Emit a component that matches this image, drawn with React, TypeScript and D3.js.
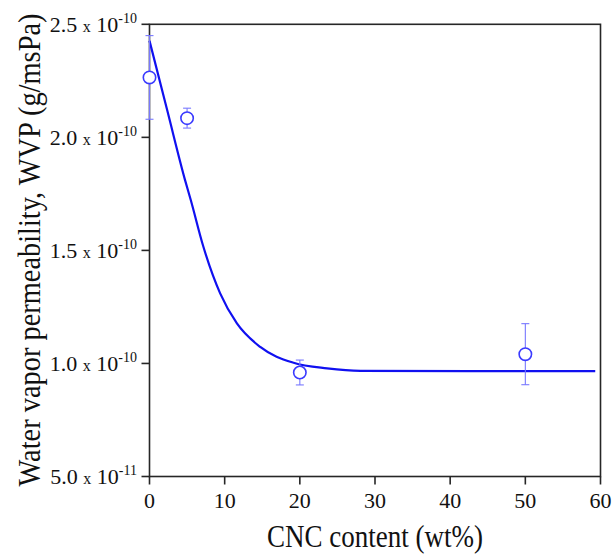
import React from 'react';
import * as d3 from 'd3';

// WVP vs CNC content, open circles with error bars plus fitted curve.

const CNC = [0, 5, 20, 50];
const WVP = [2.265, 2.085, 0.96, 1.041]; // x 1e-10
const WVP_ERR = [0.185, 0.044, 0.055, 0.135];

const FIT_X = [0, 2.4, 4.73, 5.49, 7.17, 9.4, 11.63, 14.73, 19.17, 23.63, 28.07, 59.3];
const FIT_Y = [2.427, 2.114, 1.811, 1.723, 1.516, 1.31, 1.177, 1.073, 1.003, 0.978, 0.967, 0.966];

const X_TICKS = [0, 10, 20, 30, 40, 50, 60];
const Y_TICKS = [
  { v: 0.5, mant: '5.0', exp: '-11' },
  { v: 1.0, mant: '1.0', exp: '-10' },
  { v: 1.5, mant: '1.5', exp: '-10' },
  { v: 2.0, mant: '2.0', exp: '-10' },
  { v: 2.5, mant: '2.5', exp: '-10' },
];

const W = 614;
const H = 554;
const M = { left: 149.5, right: 600.5, top: 24.3, bottom: 476.5 };
const FONT = { fontFamily: 'Liberation Serif, serif' };
const AXIS = '#262626';

export default function App() {
  const x = d3.scaleLinear().domain([0, 60]).range([M.left, M.right]);
  const y = d3.scaleLinear().domain([0.5, 2.5]).range([M.bottom, M.top]);

  const fitLine = d3
    .line<number>()
    .x((_, i) => x(FIT_X[i]))
    .y((d) => y(d))
    .curve(d3.curveMonotoneX);

  return (
    <svg
      width={W}
      height={H}
      viewBox={`0 0 ${W} ${H}`}
      style={{ position: 'absolute', left: 0, top: 0, background: '#fff' }}
    >
      {/* frame */}
      <rect
        x={M.left}
        y={M.top}
        width={M.right - M.left}
        height={M.bottom - M.top}
        fill="none"
        stroke={AXIS}
        strokeWidth={1.6}
      />

      {/* x ticks */}
      {X_TICKS.map((t) => (
        <g key={`xt-${t}`}>
          <line x1={x(t)} x2={x(t)} y1={M.bottom} y2={M.bottom + 8} stroke={AXIS} strokeWidth={1.6} />
          <text x={x(t)} y={M.bottom + 31} textAnchor="middle" style={FONT} fontSize={22} fill="#111">
            {t}
          </text>
        </g>
      ))}

      {/* y ticks */}
      {Y_TICKS.map((t) => (
        <g key={`yt-${t.v}`}>
          <line x1={M.left - 8} x2={M.left} y1={y(t.v)} y2={y(t.v)} stroke={AXIS} strokeWidth={1.6} />
          <text x={137} y={y(t.v) + 7.5} textAnchor="end" style={FONT} fill="#111">
            <tspan fontSize={22}>{t.mant} </tspan>
            <tspan fontSize={16}>x</tspan>
            <tspan fontSize={22}> 10</tspan>
            <tspan fontSize={14} dy={-9}>
              {t.exp}
            </tspan>
          </text>
        </g>
      ))}

      {/* axis titles */}
      <text
        x={375}
        y={547}
        textAnchor="middle"
        style={FONT}
        fontSize={31}
        textLength={216}
        lengthAdjust="spacingAndGlyphs"
        fill="#111"
      >
        CNC content (wt%)
      </text>
      <text
        transform="translate(39.5, 250) rotate(-90)"
        textAnchor="middle"
        style={FONT}
        fontSize={31}
        textLength={473}
        lengthAdjust="spacingAndGlyphs"
        fill="#111"
      >
        Water vapor permeability, WVP (g/msPa)
      </text>

      {/* fitted curve */}
      <path d={fitLine(FIT_Y) ?? ''} fill="none" stroke="#1010f0" strokeWidth={2.2} />

      {/* error bars */}
      {CNC.map((c, i) => {
        const cx = x(c);
        const y0 = y(WVP[i] - WVP_ERR[i]);
        const y1 = y(WVP[i] + WVP_ERR[i]);
        return (
          <g key={`eb-${c}`} stroke="#7878ff" strokeWidth={1.1}>
            <line x1={cx} x2={cx} y1={y0} y2={y1} />
            <line x1={cx - 4} x2={cx + 4} y1={y0} y2={y0} />
            <line x1={cx - 4} x2={cx + 4} y1={y1} y2={y1} />
          </g>
        );
      })}

      {/* points */}
      {CNC.map((c, i) => (
        <circle
          key={`pt-${c}`}
          cx={x(c)}
          cy={y(WVP[i])}
          r={6.2}
          fill="#fff"
          stroke="#3a3aff"
          strokeWidth={1.6}
        />
      ))}
    </svg>
  );
}
